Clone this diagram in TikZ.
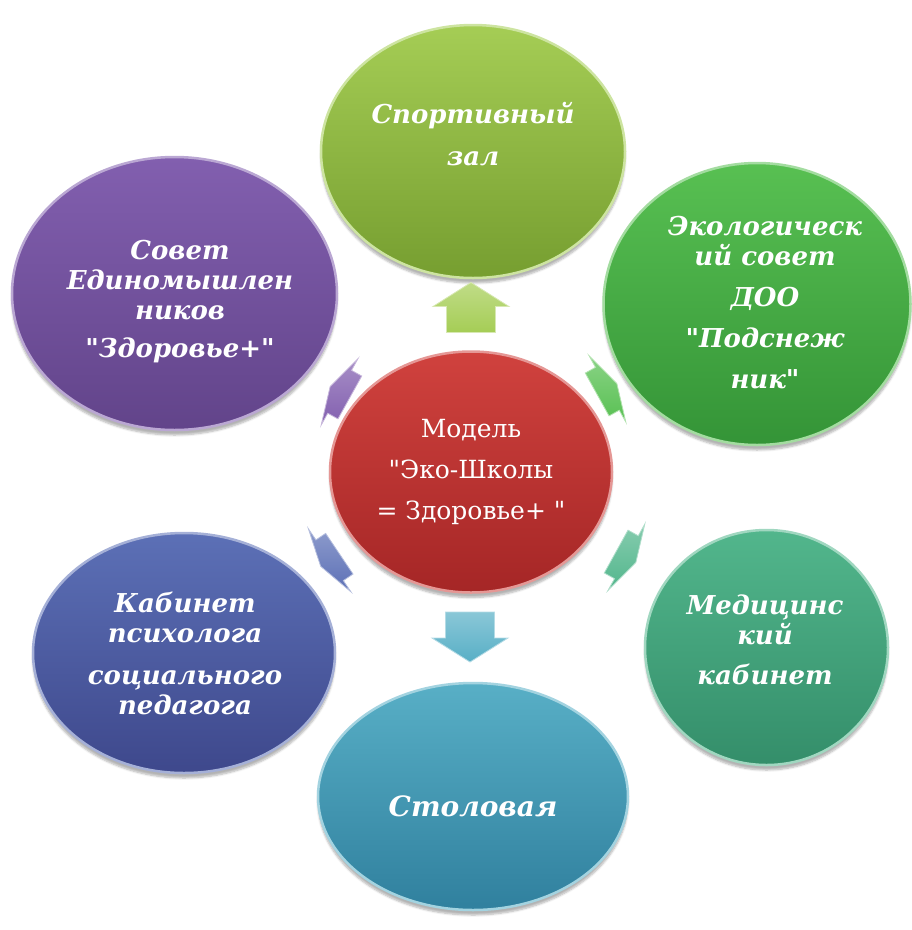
\documentclass[tikz,border=0pt]{standalone}
\usepackage{fontspec}
\setmainfont{DejaVu Serif}[Ligatures=TeXOff]
\usetikzlibrary{shapes.geometric,shadows.blur}
\definecolor{redT}{RGB}{208,66,62}
\definecolor{redB}{RGB}{165,38,38}
\definecolor{spT}{RGB}{165,205,85}
\definecolor{spB}{RGB}{118,158,48}
\definecolor{ecT}{RGB}{88,192,82}
\definecolor{ecB}{RGB}{52,148,55}
\definecolor{mdT}{RGB}{82,182,140}
\definecolor{mdB}{RGB}{52,142,106}
\definecolor{stT}{RGB}{88,175,198}
\definecolor{stB}{RGB}{48,128,158}
\definecolor{psT}{RGB}{92,112,182}
\definecolor{psB}{RGB}{62,72,140}
\definecolor{soT}{RGB}{130,95,175}
\definecolor{soB}{RGB}{98,68,138}
\tikzset{
  blob/.style={ellipse, inner sep=0pt, line width=2.5pt,
    blur shadow={shadow xshift=0pt, shadow yshift=-5pt, shadow blur steps=6, shadow opacity=30}},
  lab/.style={text=white, align=center, font=\fontsize{26}{30}\selectfont\bfseries\itshape},
  ctr/.style={text=white, align=center, font=\fontsize{25}{41}\selectfont},
}
\newcommand\blkarrow[4]{%
  \shade[top color=#4!70!white, bottom color=#4, draw=#4!45!white, line width=0.8pt,
    shift={#1}, rotate=#2, xscale=#3]
    (-25,-24.5)--(1,-24.5)--(1,-38)--(25,0)--(1,38)--(1,24.5)--(-25,24.5)--cycle;}
\begin{document}
\begin{tikzpicture}[x=1pt,y=-1pt]
\useasboundingbox (0,0) rectangle (912,930);
% ellipses
\node[blob, minimum width=304pt, minimum height=253pt, top color=spT, bottom color=spB, draw=spT!55!white] (sport) at (473,151.5) {};
\node[blob, minimum width=307pt, minimum height=282pt, top color=ecT, bottom color=ecB, draw=ecT!55!white] (eco) at (757,304) {};
\node[blob, minimum width=243pt, minimum height=235pt, top color=mdT, bottom color=mdB, draw=mdT!55!white] (med) at (766.5,647.5) {};
\node[blob, minimum width=310pt, minimum height=227pt, top color=stT, bottom color=stB, draw=stT!55!white] (stol) at (473,796.5) {};
\node[blob, minimum width=302pt, minimum height=240pt, top color=psT, bottom color=psB, draw=psT!55!white] (psy) at (184,653) {};
\node[blob, minimum width=325pt, minimum height=273pt, top color=soT, bottom color=soB, draw=soT!55!white] (sov) at (174.5,293.5) {};
\node[blob, minimum width=282pt, minimum height=241pt, top color=redT, bottom color=redB, draw=redT!55!white] (model) at (471,472) {};
% arrows
\blkarrow{(471,307.5)}{90}{1}{spT}
\blkarrow{(607,389)}{29}{0.45}{ecT}
\blkarrow{(626,557)}{-29}{0.45}{mdT}
\blkarrow{(470,637)}{-90}{1}{stT}
\blkarrow{(330,560)}{-146}{0.45}{psT}
\blkarrow{(340,392)}{151}{0.45}{soT}
% labels
\node[ctr] (tmodel) at (model.center) {Модель\\"Эко-Школы\\= Здоровье+ "};
\node[lab, font=\fontsize{26}{42}\selectfont\bfseries\itshape] (tsport) at (473,134) {Спортивный\\зал};
\node[lab] (tsov) at (180,302) {Совет\\Единомышлен\\ников\\[8pt]"Здоровье+"};
\node[lab] (teco) at (765,302.5) {Экологическ\\ий совет\\[11pt]ДОО\\[11pt]"Подснеж\\[11pt]ник"};
\node[lab] (tpsy) at (185,653) {Кабинет\\психолога\\[12pt]социального\\педагога};
\node[lab] (tmed) at (765,640) {Медицинс\\кий\\[10pt]кабинет};
\node[lab, font=\fontsize{28}{32}\selectfont\bfseries\itshape] (tstol) at (473,806) {Столовая};
\end{tikzpicture}
\end{document}
